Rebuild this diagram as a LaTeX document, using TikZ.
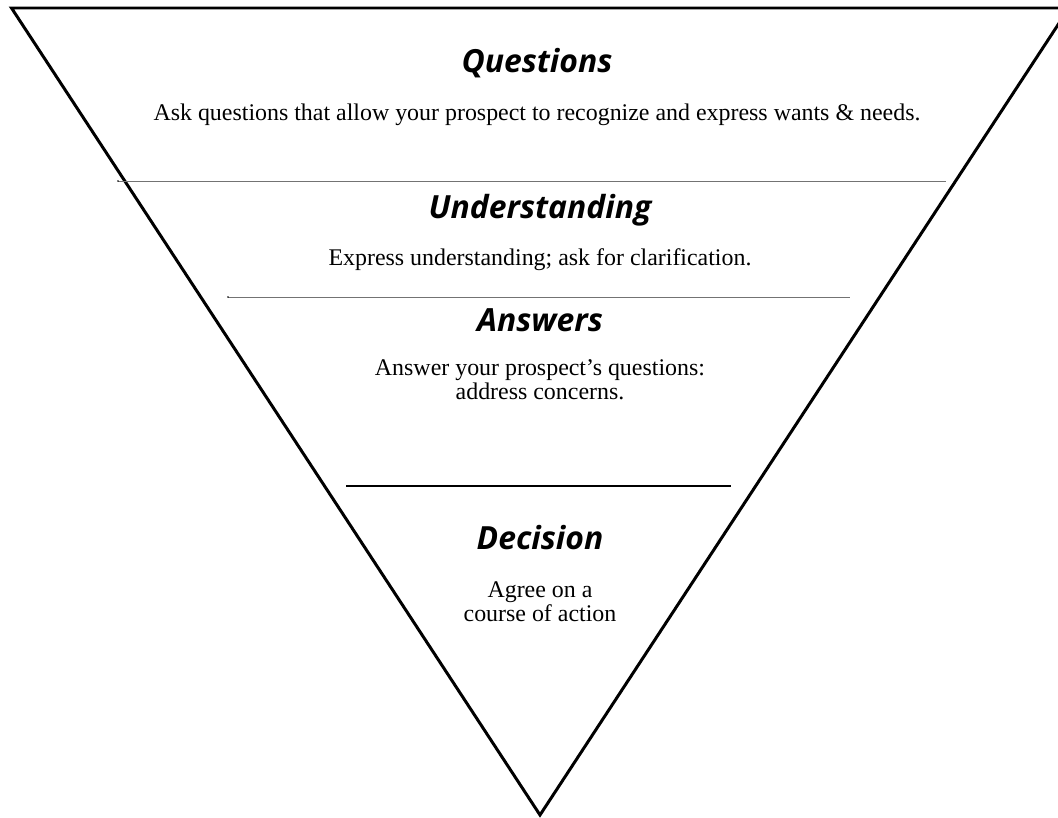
\documentclass[tikz,border=0pt]{standalone}
\usepackage{fontspec}
\setmainfont{Liberation Serif}
\newfontfamily\titlefont{Open Sans}
\tikzset{
  ttl/.style={font=\titlefont\bfseries\itshape\fontsize{32}{34}\selectfont, anchor=base, inner sep=0pt},
  bodytxt/.style={font=\fontsize{24}{24}\selectfont, anchor=base, inner sep=0pt, align=center},
  funnel/.style={line width=3pt, line join=miter},
  thinrule/.style={line width=0.9pt, draw=black!55},
  thickrule/.style={line width=1.8pt, draw=black}
}
\begin{document}
\begin{tikzpicture}[x=1bp,y=-1bp]
\useasboundingbox (0,0) rectangle (1058,818);
\coordinate (tl) at (11.5,8);
\coordinate (tr) at (1069,8);
\coordinate (ap) at (540,815);
\draw[funnel] (tl) -- (tr) -- (ap) -- cycle;

\node[ttl] (q) at (537,73) {Questions};
\node[bodytxt] (qb) at (537,120) {Ask questions that allow your prospect to recognize and express wants \& needs.};

\coordinate (r1a) at (118,181);
\coordinate (r1b) at (946,181);
\draw[thinrule] (r1a) -- (r1b);
\fill (r1a) circle (0.9);

\node[ttl] (u) at (540,218) {Understanding};
\node[bodytxt] (ub) at (540,265) {Express understanding; ask for clarification.};

\coordinate (r2a) at (228,297);
\coordinate (r2b) at (850,297);
\draw[thinrule] (r2a) -- (r2b);
\fill (r2a) circle (0.9);

\node[ttl] (a) at (540,331) {Answers};
\node[bodytxt] (ab) at (540,399) {Answer your prospect’s questions:\\address concerns.};

\coordinate (r3a) at (346,486);
\coordinate (r3b) at (731,486);
\draw[thickrule] (r3a) -- (r3b);

\node[ttl] (d) at (540,549) {Decision};
\node[bodytxt] (db) at (540,621) {Agree on a\\course of action};
\end{tikzpicture}
\end{document}
